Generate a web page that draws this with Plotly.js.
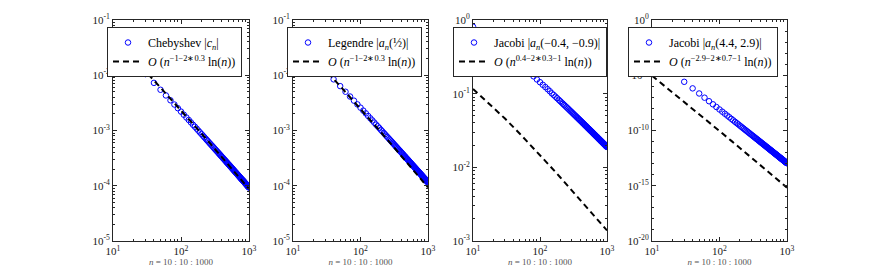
<!DOCTYPE html>
<html>
<head>
<meta charset="utf-8">
<script src="https://cdn.plot.ly/plotly-3.0.1.min.js"></script>
<style>html,body{margin:0;padding:0;background:#fff;}#chart{width:872px;height:273px;}</style>
</head>
<body>
<div id="chart"></div>
<script>
// n = 10:10:1000
const n = [10,20,30,40,50,60,70,80,90,100,110,120,130,140,150,160,170,180,190,200,
210,220,230,240,250,260,270,280,290,300,310,320,330,340,350,360,370,380,390,400,
410,420,430,440,450,460,470,480,490,500,510,520,530,540,550,560,570,580,590,600,
610,620,630,640,650,660,670,680,690,700,710,720,730,740,750,760,770,780,790,800,
810,820,830,840,850,860,870,880,890,900,910,920,930,940,950,960,970,980,990,1000];

const chebyshev = [3.89e-2,1.73e-2,1.05e-2,7.28e-3,5.46e-3,4.31e-3,3.52e-3,2.95e-3,2.53e-3,2.20e-3,
1.93e-3,1.72e-3,1.55e-3,1.40e-3,1.27e-3,1.17e-3,1.08e-3,9.95e-4,9.25e-4,8.63e-4,
8.07e-4,7.57e-4,7.13e-4,6.72e-4,6.36e-4,6.03e-4,5.72e-4,5.44e-4,5.19e-4,4.95e-4,
4.73e-4,4.53e-4,4.34e-4,4.17e-4,4.01e-4,3.85e-4,3.71e-4,3.57e-4,3.45e-4,3.33e-4,
3.22e-4,3.11e-4,3.01e-4,2.92e-4,2.83e-4,2.74e-4,2.66e-4,2.59e-4,2.51e-4,2.44e-4,
2.38e-4,2.32e-4,2.25e-4,2.20e-4,2.14e-4,2.09e-4,2.04e-4,1.99e-4,1.94e-4,1.90e-4,
1.85e-4,1.81e-4,1.77e-4,1.73e-4,1.70e-4,1.66e-4,1.63e-4,1.59e-4,1.56e-4,1.53e-4,
1.50e-4,1.47e-4,1.44e-4,1.41e-4,1.39e-4,1.36e-4,1.34e-4,1.31e-4,1.29e-4,1.27e-4,
1.25e-4,1.23e-4,1.21e-4,1.19e-4,1.17e-4,1.15e-4,1.13e-4,1.11e-4,1.09e-4,1.08e-4,
1.06e-4,1.04e-4,1.03e-4,1.01e-4,9.97e-5,9.83e-5,9.69e-5,9.55e-5,9.41e-5,9.28e-5];

const legendre = [4.39e-2,1.98e-2,1.21e-2,8.43e-3,6.36e-3,5.03e-3,4.12e-3,3.47e-3,2.97e-3,2.59e-3,
2.29e-3,2.04e-3,1.83e-3,1.66e-3,1.52e-3,1.39e-3,1.28e-3,1.19e-3,1.11e-3,1.03e-3,
9.67e-4,9.08e-4,8.55e-4,8.08e-4,7.65e-4,7.25e-4,6.89e-4,6.56e-4,6.26e-4,5.98e-4,
5.72e-4,5.47e-4,5.25e-4,5.04e-4,4.85e-4,4.67e-4,4.49e-4,4.33e-4,4.18e-4,4.04e-4,
3.91e-4,3.78e-4,3.66e-4,3.55e-4,3.44e-4,3.34e-4,3.24e-4,3.15e-4,3.06e-4,2.98e-4,
2.90e-4,2.82e-4,2.75e-4,2.68e-4,2.62e-4,2.55e-4,2.49e-4,2.43e-4,2.37e-4,2.32e-4,
2.27e-4,2.22e-4,2.17e-4,2.12e-4,2.08e-4,2.04e-4,1.99e-4,1.95e-4,1.91e-4,1.88e-4,
1.84e-4,1.81e-4,1.77e-4,1.74e-4,1.71e-4,1.68e-4,1.65e-4,1.62e-4,1.59e-4,1.56e-4,
1.54e-4,1.51e-4,1.48e-4,1.46e-4,1.44e-4,1.41e-4,1.39e-4,1.37e-4,1.35e-4,1.33e-4,
1.31e-4,1.29e-4,1.27e-4,1.25e-4,1.23e-4,1.21e-4,1.20e-4,1.18e-4,1.16e-4,1.15e-4];

const jacobiA = [8.11e-1,5.08e-1,3.76e-1,3.01e-1,2.52e-1,2.18e-1,1.92e-1,1.72e-1,1.56e-1,1.43e-1,
1.32e-1,1.23e-1,1.15e-1,1.08e-1,1.01e-1,9.60e-2,9.11e-2,8.67e-2,8.28e-2,7.92e-2,
7.59e-2,7.29e-2,7.01e-2,6.76e-2,6.52e-2,6.30e-2,6.10e-2,5.90e-2,5.73e-2,5.56e-2,
5.40e-2,5.25e-2,5.11e-2,4.98e-2,4.85e-2,4.73e-2,4.62e-2,4.51e-2,4.41e-2,4.31e-2,
4.22e-2,4.13e-2,4.04e-2,3.96e-2,3.88e-2,3.81e-2,3.73e-2,3.66e-2,3.60e-2,3.53e-2,
3.47e-2,3.41e-2,3.35e-2,3.30e-2,3.24e-2,3.19e-2,3.14e-2,3.09e-2,3.05e-2,3.00e-2,
2.96e-2,2.91e-2,2.87e-2,2.83e-2,2.79e-2,2.75e-2,2.72e-2,2.68e-2,2.64e-2,2.61e-2,
2.58e-2,2.55e-2,2.51e-2,2.48e-2,2.45e-2,2.42e-2,2.40e-2,2.37e-2,2.34e-2,2.31e-2,
2.29e-2,2.26e-2,2.24e-2,2.21e-2,2.19e-2,2.17e-2,2.14e-2,2.12e-2,2.10e-2,2.08e-2,
2.06e-2,2.04e-2,2.02e-2,2.00e-2,1.98e-2,1.96e-2,1.94e-2,1.92e-2,1.91e-2,1.89e-2];

const jacobiB = [2.40e-4,1.74e-5,2.55e-6,6.49e-7,2.24e-7,9.34e-8,4.46e-8,2.34e-8,1.33e-8,8.00e-9,
5.05e-9,3.32e-9,2.25e-9,1.58e-9,1.13e-9,8.25e-10,6.15e-10,4.67e-10,3.59e-10,2.80e-10,
2.21e-10,1.76e-10,1.42e-10,1.15e-10,9.47e-11,7.83e-11,6.52e-11,5.46e-11,4.60e-11,3.90e-11,
3.33e-11,2.85e-11,2.46e-11,2.12e-11,1.84e-11,1.61e-11,1.41e-11,1.23e-11,1.09e-11,9.62e-12,
8.53e-12,7.58e-12,6.76e-12,6.05e-12,5.42e-12,4.87e-12,4.38e-12,3.95e-12,3.58e-12,3.24e-12,
2.94e-12,2.68e-12,2.44e-12,2.23e-12,2.03e-12,1.86e-12,1.71e-12,1.57e-12,1.44e-12,1.33e-12,
1.23e-12,1.13e-12,1.05e-12,9.71e-13,9.00e-13,8.35e-13,7.76e-13,7.22e-13,6.72e-13,6.27e-13,
5.85e-13,5.46e-13,5.10e-13,4.78e-13,4.47e-13,4.19e-13,3.93e-13,3.69e-13,3.47e-13,3.26e-13,
3.07e-13,2.89e-13,2.72e-13,2.57e-13,2.43e-13,2.29e-13,2.16e-13,2.05e-13,1.94e-13,1.83e-13,
1.74e-13,1.65e-13,1.56e-13,1.48e-13,1.41e-13,1.34e-13,1.27e-13,1.21e-13,1.15e-13,1.09e-13];

// reference rate curves O(n^p ln n)
const nRef = [10,20,30,50,70,100,150,200,300,500,700,1000];
const refCheb = [4.62e-2,1.98e-2,1.18e-2,5.98e-3,3.79e-3,2.32e-3,1.32e-3,8.82e-4,4.96e-4,2.39e-4,1.47e-4,8.75e-5];
const refLeg  = [4.92e-2,2.11e-2,1.25e-2,6.36e-3,4.03e-3,2.47e-3,1.40e-3,9.37e-4,5.27e-4,2.54e-4,1.56e-4,9.31e-5];
const refJacA = [1.16e-1,6.58e-2,4.59e-2,2.86e-2,2.08e-2,1.47e-2,9.81e-3,7.34e-3,4.86e-3,2.87e-3,2.02e-3,1.39e-3];
const refJacB = [9.00e-6,2.97e-7,3.94e-8,3.02e-9,5.51e-10,9.02e-11,1.15e-11,2.63e-12,3.31e-13,2.40e-14,4.26e-15,6.78e-16];

const pointNames = ['Chebyshev |<i>c<sub>n</sub></i>|',
  'Legendre |<i>a<sub>n</sub></i>(½)|',
  'Jacobi |<i>a<sub>n</sub></i>(−0.4, −0.9)|',
  'Jacobi |<i>a<sub>n</sub></i>(4.4, 2.9)|'];
const refNames = ['<i>O</i> (<i>n</i><sup>−1−2∗0.3</sup> ln(<i>n</i>))',
  '<i>O</i> (<i>n</i><sup>−1−2∗0.3</sup> ln(<i>n</i>))',
  '<i>O</i> (<i>n</i><sup>0.4−2∗0.3−1</sup> ln(<i>n</i>))',
  '<i>O</i> (<i>n</i><sup>−2.9−2∗0.7−1</sup> ln(<i>n</i>))'];

const xTickVals = [10,100,1000];
const xTickText = ['10<sup>1</sup>','10<sup>2</sup>','10<sup>3</sup>'];
const yTicks = [
  {vals:[1e-5,1e-4,1e-3,1e-2,1e-1], text:['10<sup>-5</sup>','10<sup>-4</sup>','10<sup>-3</sup>','10<sup>-2</sup>','10<sup>-1</sup>'], range:[-5,-1], minor:'D1'},
  {vals:[1e-5,1e-4,1e-3,1e-2,1e-1], text:['10<sup>-5</sup>','10<sup>-4</sup>','10<sup>-3</sup>','10<sup>-2</sup>','10<sup>-1</sup>'], range:[-5,-1], minor:'D1'},
  {vals:[1e-3,1e-2,1e-1,1], text:['10<sup>-3</sup>','10<sup>-2</sup>','10<sup>-1</sup>','10<sup>0</sup>'], range:[-3,0], minor:'D1'},
  {vals:[1e-20,1e-15,1e-10,1e-5,1], text:['10<sup>-20</sup>','10<sup>-15</sup>','10<sup>-10</sup>','10<sup>-5</sup>','10<sup>0</sup>'], range:[-20,0], minor:1}
];

const W = 872, H = 273;
const xPix = [[113,249],[293,428],[473,607],[652,787]];
const yPix = [20,241];
const legendRight = [242,422,607,778];

const serif = 'Liberation Serif, Times New Roman, serif';
const axisColor = '#262626';

const series = [chebyshev, legendre, jacobiA, jacobiB];
const refs = [refCheb, refLeg, refJacA, refJacB];

const traces = [];
const layout = {
  width: W, height: H,
  margin: {l:0, r:0, t:0, b:0},
  paper_bgcolor: '#ffffff', plot_bgcolor: '#ffffff',
  showlegend: true
};

for (let i = 0; i < 4; i++) {
  const sfx = i === 0 ? '' : String(i + 1);
  const legName = 'legend' + sfx;
  traces.push({
    x: n, y: series[i], type: 'scatter', mode: 'markers',
    xaxis: 'x' + sfx, yaxis: 'y' + sfx, legend: legName,
    name: pointNames[i],
    marker: {symbol: 'circle-open', size: 5.5, color: '#0000ff', line: {width: 1, color: '#0000ff'}},
    hoverinfo: 'skip'
  });
  traces.push({
    x: nRef, y: refs[i], type: 'scatter', mode: 'lines',
    xaxis: 'x' + sfx, yaxis: 'y' + sfx, legend: legName,
    name: refNames[i],
    line: {color: '#000000', width: 2, dash: '6px,4px'},
    hoverinfo: 'skip'
  });

  const common = {
    type: 'log', showline: true, linecolor: axisColor, linewidth: 1, mirror: 'ticks',
    ticks: 'inside', ticklen: 4, tickwidth: 1, tickcolor: axisColor,
    showgrid: false, zeroline: false,
    tickfont: {family: serif, size: 11, color: '#1a1a1a'}
  };
  layout['xaxis' + sfx] = Object.assign({}, common, {
    domain: [xPix[i][0] / W, xPix[i][1] / W], anchor: 'y' + sfx,
    range: [1, 3], tickmode: 'array', tickvals: xTickVals, ticktext: xTickText,
    minor: {ticks: 'inside', ticklen: 2, tickcolor: axisColor, dtick: 'D1', showgrid: false},
    title: {text: '<i>n</i> = 10 : 10 : 1000', font: {family: serif, size: 9, color: '#555555'}, standoff: 1}
  });
  layout['yaxis' + sfx] = Object.assign({}, common, {
    domain: [1 - yPix[1] / H, 1 - yPix[0] / H], anchor: 'x' + sfx,
    range: yTicks[i].range, tickmode: 'array', tickvals: yTicks[i].vals, ticktext: yTicks[i].text,
    minor: {ticks: 'inside', ticklen: 2, tickcolor: axisColor, dtick: yTicks[i].minor, showgrid: false}
  });
  layout[legName] = {
    x: legendRight[i] / W, xanchor: 'right', y: 1 - 27 / H, yanchor: 'top',
    bgcolor: '#ffffff', bordercolor: axisColor, borderwidth: 1,
    font: {family: serif, size: 12, color: '#000000'},
    tracegroupgap: 0, itemwidth: 30
  };
}

Plotly.newPlot('chart', traces, layout, {staticPlot: true, displayModeBar: false});
</script>
</body>
</html>
